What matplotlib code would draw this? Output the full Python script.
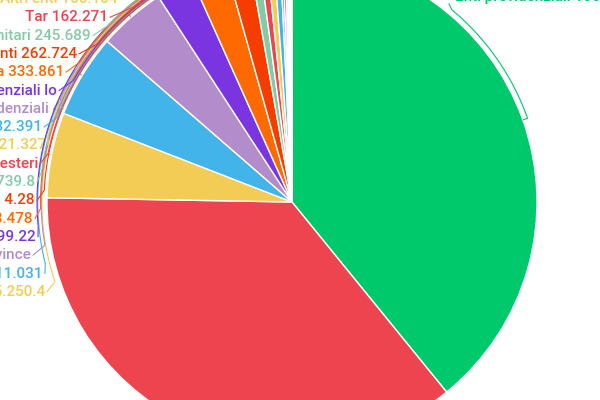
import numpy as np
import matplotlib
matplotlib.use("Agg")
import matplotlib.pyplot as plt

# ---------------- data (slice order, clockwise from 12 o'clock) ----------------
values = [106200000, 98100000, 15250400, 14911031, 12000000, 6699220, 6413478,
          4280000, 1739800, 1370000, 1221327, 1132391, 490000, 420000,
          333861, 262724, 245689, 162271, 166104]
colors = ["#00C96B", "#EE444F", "#F3CC55", "#42B4E9", "#B38CCB", "#7A35E0",
          "#FF6A00", "#F53D00", "#85CAA6", "#EE444F", "#F3CC55", "#42B4E9",
          "#B38CCB", "#7A35E0", "#FF6A00", "#F53D00", "#85CAA6", "#EE444F",
          "#F3CC55"]
label_texts = ["Enti previdenziali 106.200.000", None,
               "Regioni 15.250.4", "Comuni 14.911.031",
               "Città metropolitane e Province", "Enti locali 6.699.22",
               "Aziende sanitarie 6.413.478", "Consorzi 4.28",
               "Camere di commercio 1.739.8", "Organismi esteri",
               "Università 1.221.327", "Enti di ricerca 1.132.391",
               "Casse previdenziali 4", "Enti previdenziali lo",
               "Autorità di sistema 333.861", "Enti dipendenti 262.724",
               "Enti sanitari 245.689", "Tar 162.271", "Altri enti 166.104"]

# ---------------- layout (pixels, screen coords y down) ----------------
W, H = 600, 400
CX, CY, R = 292, 202, 245
label_right = {2: 45, 3: 43, 4: 31, 5: 36, 6: 33, 7: 35, 8: 35, 9: 38, 10: 46,
               11: 42, 12: 61, 13: 57, 14: 64, 15: 77, 16: 91, 17: 108, 18: 118}

fig = plt.figure(figsize=(6, 4), dpi=100)
ax = fig.add_axes([0, 0, 1, 1])

ax.pie(values, colors=colors, startangle=90, counterclock=False, radius=R,
       center=(CX, H - CY), frame=True,
       wedgeprops=dict(edgecolor="white", linewidth=1.0))
ax.set_xlim(0, W)
ax.set_ylim(0, H)
ax.set_aspect("equal")
ax.axis("off")

total = float(np.sum(values))
cum = np.cumsum(values)
mids = (cum - np.array(values) / 2.0) / total * 360.0  # clockwise from up


def pt(theta_deg, rad):
    t = np.radians(theta_deg)
    return CX + rad * np.sin(t), CY - rad * np.cos(t)


font = dict(family=["Roboto", "DejaVu Sans"], fontsize=11, fontweight=500)

n = len(values)
for i in range(2, n):
    k = (n - 1) - i  # label slot from top
    y_lab = -1 + 18.3 * k
    x_end = label_right[i]
    col = colors[i]
    ax.text(x_end, H - y_lab, label_texts[i], ha="right", va="center",
            color=col, zorder=3, **font)
    off = 3 + ((k * 5) % 11) * 0.7
    Rk = R + off
    y_t = y_lab - 10
    c = np.clip((CY - y_t) / Rk, -1, 1)
    phi = 360 - np.degrees(np.arccos(c))
    th0 = mids[i]
    ts = np.linspace(th0, phi, 200)
    xs, ys = [], []
    x0, y0 = pt(th0, R + 0.5)
    xs.append(x0); ys.append(y0)
    for t in ts:
        x, y = pt(t, Rk)
        xs.append(x); ys.append(y)
    xs.append(x_end + 2); ys.append(y_lab)
    ax.plot(xs, [H - v for v in ys], color=col, lw=0.8, zorder=4,
            solid_capstyle="round")

# green label, top right
col = colors[0]
ax.text(455, H - (-3), label_texts[0], ha="left", va="center", color=col,
        zorder=3, **font)
Rg = R + 5
c = (CY - 10) / Rg
phi = np.degrees(np.arccos(c))
ts = np.linspace(mids[0], phi, 200)
xs, ys = [], []
x0, y0 = pt(mids[0], R + 0.5)
xs.append(x0); ys.append(y0)
for t in ts:
    x, y = pt(t, Rg)
    xs.append(x); ys.append(y)
xs.append(449); ys.append(4)
ax.plot(xs, [H - v for v in ys], color=col, lw=0.8, zorder=4)

fig.savefig("out.png", dpi=100)
